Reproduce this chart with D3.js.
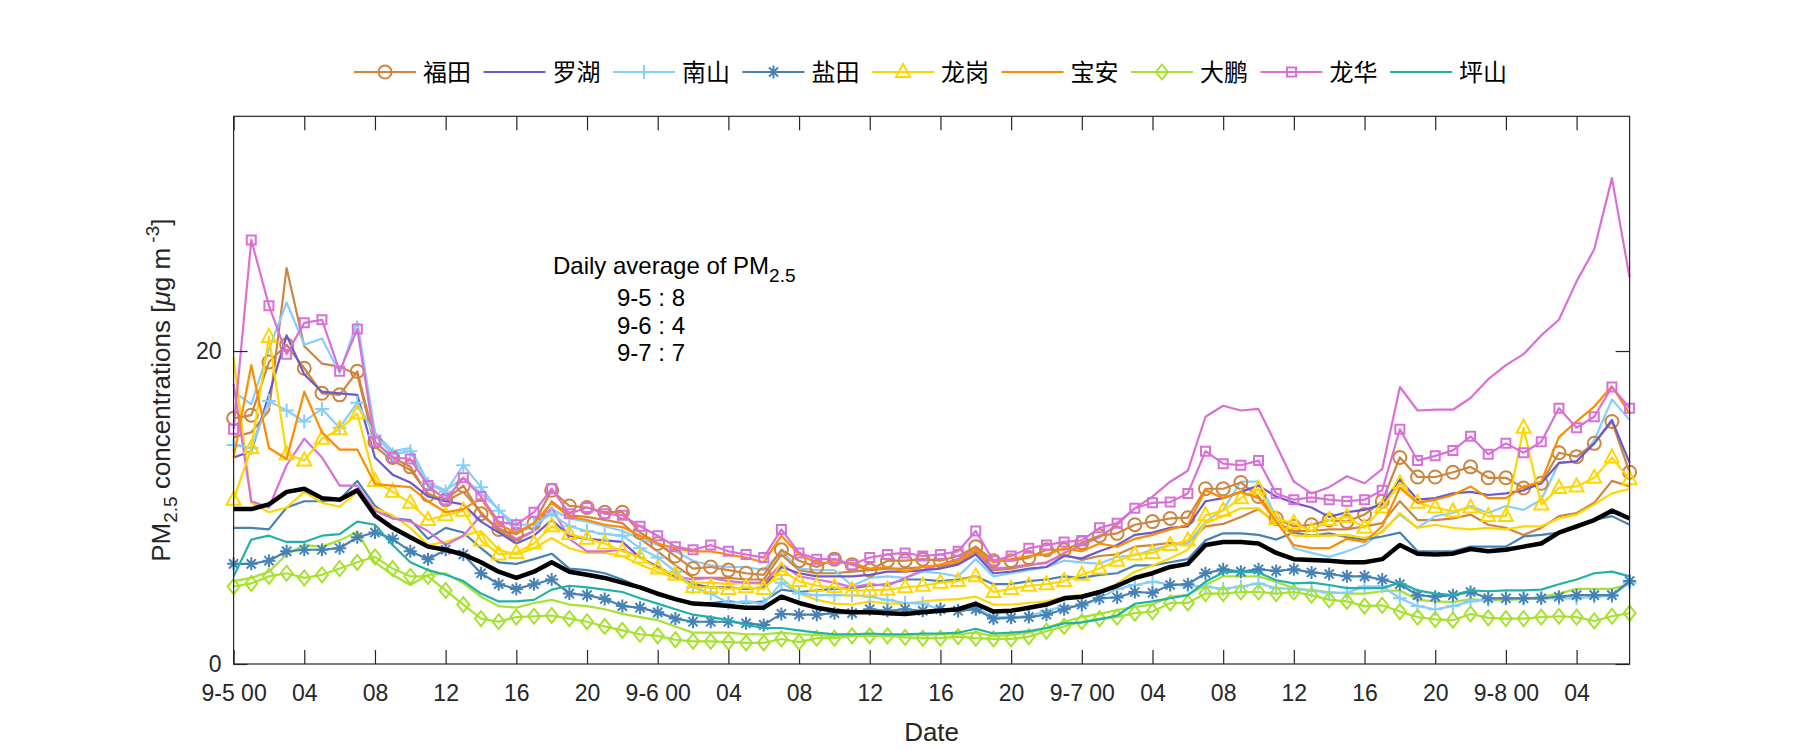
<!DOCTYPE html>
<html><head><meta charset="utf-8">
<script src="https://cdn.jsdelivr.net/npm/d3@7"></script>
<style>body{margin:0;background:#fff}</style>
</head><body>
<svg id="chart" width="1800" height="750"></svg>
<script>
// ---------- data ----------
const xTickHours = [0,4,8,12,16,20,24,28,32,36,40,44,48,52,56,60,64,68,72,76];
const xTickLabels = ["9-5 00","04","08","12","16","20","9-6 00","04","08","12","16","20","9-7 00","04","08","12","16","20","9-8 00","04"];
const yTicks = [0, 20];
const legendNames = ["福田","罗湖","南山","盐田","龙岗","宝安","大鹏","龙华","坪山"];
const annotationLines = ["9-5 : 8","9-6 : 4","9-7 : 7"];

const futianA = [15.7,15.9,19.3,20.4,18.9,17.3,17.2,18.7,14.2,13.2,12.6,10.8,10.5,11.4,9.6,8.6,
 8.3,9.0,11.1,10.1,10.0,9.7,9.7,8.4,7.7,6.9,6.1,6.2,6.0,5.8,5.7,7.3,
 6.6,6.2,6.7,6.35,6.0,6.6,6.6,6.7,6.6,6.9,7.5,6.6,6.6,6.8,7.3,7.3,
 7.75,8.2,8.35,8.9,9.1,9.3,9.35,11.2,11.2,11.6,10.7,9.3,8.8,8.9,9.2,9.1,
 9.55,10.4,13.2,11.95,11.95,12.25,12.6,11.9,11.9,11.25,11.55,13.5,13.25,14.1,15.5,12.25];
const futianB = [14.5,14.8,16.2,25.3,20.3,19.2,19.0,18.5,13.9,13.0,12.4,10.9,10.4,11.0,9.7,8.5,
 7.9,8.5,10.4,9.5,9.4,9.2,9.0,8.0,7.2,6.3,5.5,5.5,5.5,5.4,5.4,7.0,
 6.0,5.8,5.8,5.9,6.0,6.1,6.1,6.2,6.3,6.4,7.2,6.0,6.1,6.3,6.5,7.0,
 6.65,6.9,7.0,7.5,7.6,7.75,7.7,8.8,8.95,9.4,9.9,9.0,8.5,8.5,8.6,8.6,
 8.8,9.0,10.4,9.2,9.2,9.3,9.55,8.9,8.7,8.25,8.7,9.45,9.65,10.3,11.7,11.35];
const luohu = [13.2,13.6,17.2,21.0,18.5,17.4,17.3,17.2,13.2,12.1,11.6,10.7,10.4,10.2,9.1,8.4,
 7.7,8.2,9.2,8.2,8.0,7.9,7.8,6.8,6.2,5.6,5.1,4.9,4.9,4.8,4.9,6.2,
 5.8,5.6,5.6,5.6,5.7,5.9,5.9,6.0,6.1,6.35,7.0,5.8,5.9,6.1,6.2,6.9,
 6.75,7.2,7.6,8.25,8.4,8.7,8.8,10.4,10.6,11.0,11.4,10.7,10.3,10.0,9.4,9.7,
 9.85,10.2,11.8,10.5,10.6,10.9,11.0,10.8,10.9,11.1,11.55,12.85,12.95,14.1,15.6,12.85];
const nanshanA = [14.0,13.8,16.8,16.2,15.5,16.3,15.1,16.7,14.6,13.4,13.6,11.5,11.0,12.7,11.3,9.8,
 8.9,8.9,9.6,8.8,8.5,8.3,8.2,7.4,6.8,5.9,4.9,4.5,3.9,4.0,3.85,5.2,
 4.5,4.4,4.4,4.4,4.3,4.1,3.9,3.86,3.5,3.4,3.6,3.0,3.0,3.05,3.4,3.7,
 3.7,4.2,4.8,5.05,5.25,5.1,5.0,4.95,4.8,4.95,5.15,4.85,4.8,4.7,4.55,4.55,
 4.95,4.95,4.2,3.7,3.5,3.7,4.0,4.1,4.2,4.2,4.2,4.2,4.2,4.3,4.35,5.2];
const nanshanB = [17.4,16.6,20.1,23.1,20.4,20.8,18.6,21.9,14.8,13.6,13.8,11.6,11.1,11.9,10.9,9.9,
 8.5,8.7,9.9,9.3,9.1,8.8,8.5,8.0,7.6,7.2,6.6,6.3,6.2,6.2,6.0,7.2,
 6.1,6.0,6.0,5.0,5.5,5.6,5.5,5.9,5.8,5.6,6.7,5.6,5.8,6.0,6.2,6.6,
 6.5,6.4,6.85,6.95,7.3,7.6,7.7,9.1,9.85,11.65,11.65,9.4,7.4,7.1,6.85,7.2,
 7.6,8.5,9.55,8.7,9.45,9.65,10.1,9.65,10.1,9.85,10.5,12.85,12.95,14.3,16.9,15.6];
const yantianA = [6.4,6.4,6.6,7.2,7.3,7.3,7.4,8.1,8.4,8.0,7.2,6.7,7.3,7.0,5.8,5.1,
 4.8,5.1,5.4,4.5,4.4,4.15,3.7,3.6,3.3,2.9,2.7,2.7,2.7,2.6,2.5,3.2,
 3.15,3.15,3.25,3.25,3.5,3.4,3.5,3.4,3.5,3.4,3.5,2.9,2.95,3.0,3.15,3.5,
 3.8,4.2,4.25,4.6,4.55,5.05,5.1,5.8,6.05,5.9,6.05,5.95,6.05,5.85,5.75,5.6,
 5.6,5.4,5.1,4.4,4.3,4.4,4.6,4.2,4.2,4.2,4.2,4.3,4.4,4.4,4.4,5.3];
const yantianB = [8.7,8.7,8.6,10.0,10.4,10.4,10.5,11.7,10.1,9.3,9.2,8.0,8.7,8.4,7.4,6.5,
 6.4,6.7,7.05,6.1,6.0,5.8,5.4,4.9,4.4,4.1,3.86,3.9,4.0,3.9,4.0,4.75,
 4.6,4.7,4.8,4.85,5.0,5.1,5.4,5.4,5.3,5.4,5.6,5.1,5.1,5.3,5.4,5.6,
 5.5,5.7,5.8,6.3,6.3,6.5,6.7,7.9,8.35,8.35,8.25,7.95,8.4,8.2,8.35,8.1,
 7.95,8.15,8.4,7.2,7.2,7.2,7.5,7.5,7.5,8.15,8.25,8.4,8.7,9.2,9.45,8.9];
const longgangA = [10.5,13.8,20.9,13.4,13.0,14.4,15.0,16.0,11.7,11.0,10.3,9.2,9.5,9.8,7.9,7.0,
 7.1,7.7,8.8,8.3,8.0,7.7,7.2,6.8,6.1,5.7,4.9,4.9,4.8,4.9,4.8,6.0,
 5.3,5.0,4.9,4.7,4.7,4.75,4.9,5.0,5.2,5.3,5.6,4.6,4.8,5.0,5.1,5.3,
 5.7,6.1,6.6,7.0,7.1,7.6,7.9,9.5,9.8,10.6,11.2,9.25,9.0,8.5,9.2,9.4,
 8.7,10.0,11.55,10.3,10.0,9.75,10.0,9.45,9.45,15.1,10.2,11.25,11.35,11.9,13.2,11.8];
const longgangB = [19.6,10.3,9.7,10.0,11.0,10.3,10.05,11.0,9.95,9.5,8.7,7.6,7.8,8.2,8.5,7.3,
 7.0,7.4,8.05,7.4,7.1,7.1,6.9,6.35,5.9,5.5,5.2,5.2,5.1,5.2,5.1,5.5,
 4.5,4.1,3.86,3.8,4.0,3.86,3.86,4.0,4.1,4.15,4.3,3.8,3.8,3.9,4.0,4.3,
 4.4,4.6,5.15,5.9,6.3,6.75,7.3,9.0,9.45,9.95,9.95,9.0,8.2,8.2,8.2,8.25,
 8.05,8.4,9.65,8.7,8.9,8.7,8.6,8.7,8.6,8.8,8.8,9.3,9.55,10.2,10.9,11.2];
const baoan = [13.2,19.1,13.8,13.1,17.4,14.8,13.7,13.7,11.5,11.4,11.3,10.4,9.7,9.9,10.6,8.9,
 8.4,9.0,10.3,9.4,9.2,8.9,8.75,8.2,7.7,7.4,7.2,7.2,7.0,6.8,6.5,8.2,
 7.0,6.45,6.5,6.45,6.1,6.2,5.9,6.2,6.35,6.6,7.3,6.5,6.7,6.9,7.0,7.4,
 7.2,7.7,7.5,8.0,8.25,8.6,8.9,11.1,10.6,11.0,10.6,9.1,7.6,7.4,7.4,8.0,
 7.8,8.8,11.25,10.3,10.5,10.8,11.35,10.6,10.6,11.35,11.65,14.5,15.5,16.45,17.75,16.0];
const dapengA = [4.95,5.15,5.6,5.8,5.5,5.7,6.1,6.5,6.85,6.1,5.6,5.6,4.7,3.8,2.9,2.7,
 3.0,3.05,3.1,2.9,2.7,2.4,2.15,1.9,1.8,1.55,1.45,1.45,1.4,1.35,1.35,1.6,
 1.4,1.65,1.65,1.8,1.8,1.8,1.7,1.65,1.65,1.75,1.65,1.6,1.6,1.75,2.1,2.4,
 2.7,2.9,3.0,3.25,3.35,3.9,3.9,4.5,4.5,4.6,4.6,4.5,4.6,4.4,4.1,4.0,
 3.7,3.75,3.35,3.0,2.85,2.8,3.2,2.95,2.9,2.9,3.0,3.05,3.0,2.75,3.05,3.25];
const dapengB = [5.3,5.5,5.9,7.0,7.6,7.5,7.9,8.45,6.5,5.7,5.05,5.7,5.8,5.15,4.3,3.7,
 3.6,3.9,4.1,3.8,3.7,3.5,3.2,3.0,2.8,2.4,2.0,2.0,2.0,1.9,1.9,2.0,
 1.9,1.85,1.8,1.85,1.9,1.85,1.85,1.85,1.9,1.9,2.0,1.8,1.85,2.0,2.3,2.7,
 3.0,3.2,3.45,3.65,3.8,4.3,4.4,5.05,5.6,5.6,5.6,5.25,4.85,4.7,4.6,4.5,
 4.5,4.65,4.7,4.1,4.0,3.95,4.15,4.05,4.1,4.15,4.3,4.5,4.8,4.8,4.8,5.1];
const longhuaA = [15.0,27.1,22.9,19.8,21.8,22.0,18.7,21.4,14.2,13.2,13.1,11.4,10.5,11.9,10.7,9.1,
 8.9,9.7,11.2,9.6,10.0,9.6,9.5,8.8,8.2,7.5,7.3,7.6,7.2,7.0,6.8,8.6,
 7.1,6.7,6.7,6.35,6.8,7.0,7.1,6.9,7.0,7.2,8.5,6.6,6.9,7.4,7.6,7.8,
 7.9,8.7,9.0,9.95,10.3,10.35,10.9,13.6,12.8,12.7,13.0,10.9,10.5,10.65,10.5,10.4,
 10.5,11.1,15.0,13.0,13.3,13.65,14.55,13.4,14.1,13.5,14.2,16.35,15.1,15.8,17.7,16.35];
const longhuaB = [17.9,10.4,10.0,12.7,14.4,13.2,11.4,11.4,9.8,9.3,9.1,8.5,7.6,8.2,9.5,8.7,
 8.0,8.5,10.0,8.0,7.2,7.2,7.3,6.8,6.2,5.6,5.4,5.5,5.3,5.2,5.2,6.4,
 5.6,5.4,5.2,4.9,5.1,5.0,5.5,6.0,6.35,6.7,7.5,6.1,6.2,6.35,6.45,7.1,
 7.6,8.1,8.9,9.95,10.7,11.65,12.35,15.8,16.5,16.2,16.3,14.0,11.65,10.9,11.3,12.0,
 11.55,12.45,17.7,16.2,16.25,16.25,17.0,18.2,19.1,19.8,21.0,22.0,24.45,26.5,31.05,24.7];
const pingshan = [5.6,7.95,8.2,7.8,7.8,8.2,8.3,9.1,8.9,7.6,6.5,6.0,5.7,5.3,4.5,4.0,
 4.0,4.1,4.75,5.0,4.9,4.75,4.6,4.2,3.86,3.5,3.15,3.0,2.8,2.5,2.3,2.3,
 2.15,2.0,1.9,1.9,1.95,1.9,1.9,1.95,1.95,2.0,2.25,1.95,2.0,2.1,2.3,2.6,
 2.65,2.85,3.1,3.85,4.0,4.2,4.4,5.25,5.85,5.9,5.85,5.35,5.15,5.2,5.05,4.85,
 4.85,4.85,5.2,4.7,4.5,4.4,4.7,4.65,4.7,4.7,4.75,5.1,5.4,5.8,5.9,5.6];
const cityAverage = [9.9,9.9,10.2,11.0,11.2,10.6,10.5,11.1,9.5,8.7,8.1,7.5,7.3,7.0,6.5,5.9,
 5.5,5.9,6.5,5.9,5.7,5.5,5.2,4.9,4.5,4.15,3.86,3.8,3.7,3.6,3.6,4.3,
 3.9,3.6,3.4,3.3,3.3,3.25,3.2,3.3,3.4,3.5,3.85,3.35,3.4,3.6,3.8,4.2,
 4.3,4.6,5.0,5.5,5.8,6.2,6.4,7.6,7.8,7.8,7.7,7.1,6.7,6.65,6.6,6.5,
 6.5,6.7,7.6,7.05,7.0,7.05,7.35,7.2,7.3,7.5,7.7,8.4,8.8,9.2,9.8,9.3];

// ---------- styles ----------
const C = {peru:"#CD853F", slate:"#6A5ACD", sky:"#87CEFA", steel:"#4682B4", gold:"#FFD700",
  orange:"#FF8C00", yg:"#A6E22E", orchid:"#DA70D6", teal:"#20B2AA"};

// unmarked companion lines first, then marked, black on top
const plain = [
  {data: futianB, color: C.peru}, {data: nanshanB, color: C.sky}, {data: yantianB, color: C.steel},
  {data: longgangB, color: C.gold}, {data: dapengB, color: C.yg}, {data: longhuaB, color: C.orchid}
];
const legendSeries = [
  {name: legendNames[0], data: futianA, color: C.peru, marker: "circle"},
  {name: legendNames[1], data: luohu, color: C.slate, marker: null},
  {name: legendNames[2], data: nanshanA, color: C.sky, marker: "plus"},
  {name: legendNames[3], data: yantianA, color: C.steel, marker: "star"},
  {name: legendNames[4], data: longgangA, color: C.gold, marker: "triangle"},
  {name: legendNames[5], data: baoan, color: C.orange, marker: null},
  {name: legendNames[6], data: dapengA, color: C.yg, marker: "diamond"},
  {name: legendNames[7], data: longhuaA, color: C.orchid, marker: "square"},
  {name: legendNames[8], data: pingshan, color: C.teal, marker: null}
];

const svg = d3.select("#chart");
const L = 233.6, R = 1629.6, T = 116.3, B = 664;
const x = d3.scaleLinear().domain([0, 79]).range([L, R]);
const y = d3.scaleLinear().domain([0, 35]).range([B, T]);
const axisColor = "#262626";
const tickFont = "'Liberation Sans', Arial, sans-serif";

function markerPath(type) {
  switch (type) {
    case "circle": return d3.path ? (() => { const p = d3.path(); p.arc(0,0,6.5,0,2*Math.PI); return p.toString(); })() : "";
    case "plus": return "M-7,0H7M0,-7V7";
    case "star": return "M-6.5,0H6.5M0,-6.5V6.5M-4.6,-4.6L4.6,4.6M-4.6,4.6L4.6,-4.6";
    case "triangle": return "M0,-8L7,5L-7,5Z";
    case "diamond": return "M0,-7.5L6,0L0,7.5L-6,0Z";
    case "square": return "M-4.5,-4.5H4.5V4.5H-4.5Z";
  }
  return "";
}

const line = d3.line().x((d, i) => x(i)).y(d => y(d));
const gPlot = svg.append("g");

plain.forEach(s => {
  gPlot.append("path").attr("d", line(s.data)).attr("fill", "none")
    .attr("stroke", s.color).attr("stroke-width", 2.2).attr("stroke-linejoin", "round");
});
legendSeries.forEach(s => {
  gPlot.append("path").attr("d", line(s.data)).attr("fill", "none")
    .attr("stroke", s.color).attr("stroke-width", 2.2).attr("stroke-linejoin", "round");
  if (s.marker) {
    gPlot.append("g").selectAll("path").data(s.data).join("path")
      .attr("transform", (d, i) => `translate(${x(i)},${y(d)})`)
      .attr("d", markerPath(s.marker)).attr("fill", "none")
      .attr("stroke", s.color).attr("stroke-width", 2);
  }
});
gPlot.append("path").attr("d", line(cityAverage)).attr("fill", "none")
  .attr("stroke", "#000").attr("stroke-width", 4.5).attr("stroke-linejoin", "round");

// ---------- axes ----------
const xb = svg.append("g").attr("transform", `translate(0,${B})`)
  .call(d3.axisBottom(x).tickValues(xTickHours).tickFormat((d, i) => xTickLabels[i])
    .tickSizeInner(-14).tickSizeOuter(0).tickPadding(21));
const xt = svg.append("g").attr("transform", `translate(0,${T})`)
  .call(d3.axisTop(x).tickValues(xTickHours).tickFormat("").tickSizeInner(-14).tickSizeOuter(0));
const yl = svg.append("g").attr("transform", `translate(${L},0)`)
  .call(d3.axisLeft(y).tickValues(yTicks).tickSizeInner(-14).tickSizeOuter(0).tickPadding(12));
const yr = svg.append("g").attr("transform", `translate(${R},0)`)
  .call(d3.axisRight(y).tickValues(yTicks).tickFormat("").tickSizeInner(-14).tickSizeOuter(0));
[xb, xt, yl, yr].forEach(g => {
  g.select(".domain").remove();
  g.selectAll(".tick line").attr("stroke", axisColor).attr("stroke-width", 1.2);
  g.selectAll(".tick text").attr("fill", axisColor).style("font-family", tickFont).style("font-size", "23px");
});
svg.append("rect").attr("x", L).attr("y", T).attr("width", R - L).attr("height", B - T)
  .attr("fill", "none").attr("stroke", axisColor).attr("stroke-width", 1.2);

// axis labels
svg.append("text").attr("x", (L + R) / 2).attr("y", 741).attr("text-anchor", "middle")
  .attr("fill", axisColor).style("font-family", tickFont).style("font-size", "26px").text("Date");
const yLab = svg.append("text").attr("transform", `translate(170,${(T + B) / 2}) rotate(-90)`)
  .attr("text-anchor", "middle").attr("fill", axisColor)
  .style("font-family", tickFont).style("font-size", "26px");
yLab.append("tspan").text("PM");
yLab.append("tspan").attr("dy", 7).style("font-size", "19px").text("2.5");
yLab.append("tspan").attr("dy", -7).text(" concentrations [");
yLab.append("tspan").style("font-style", "italic").text("μ");
yLab.append("tspan").text("g m");
yLab.append("tspan").attr("dy", -11).style("font-size", "19px").text(" -3");
yLab.append("tspan").attr("dy", 11).text("]");

// annotation
const ann = svg.append("g").style("font-family", tickFont).style("font-size", "24px").attr("fill", "#000");
const t0 = ann.append("text").attr("x", 553).attr("y", 274);
t0.append("tspan").text("Daily average of PM");
t0.append("tspan").attr("dy", 8).style("font-size", "19px").text("2.5");
annotationLines.forEach((s, i) => {
  ann.append("text").attr("x", 617).attr("y", 306 + i * 27.5).text(s);
});

// ---------- legend ----------
const lg = svg.append("g");
legendSeries.forEach((s, i) => {
  const x0 = 354 + i * 129.5, yc = 72;
  const g = lg.append("g");
  g.append("line").attr("x1", x0).attr("x2", x0 + 62).attr("y1", yc).attr("y2", yc)
    .attr("stroke", s.color).attr("stroke-width", 2.2);
  if (s.marker) g.append("path").attr("transform", `translate(${x0 + 31},${yc})`)
    .attr("d", markerPath(s.marker)).attr("fill", "none").attr("stroke", s.color).attr("stroke-width", 2);
  g.append("text").attr("x", x0 + 69).attr("y", yc).attr("dy", "0.36em")
    .style("font-family", "'Noto Sans CJK SC', sans-serif").style("font-size", "24px")
    .attr("fill", "#000").text(s.name);
});
</script>
</body></html>
